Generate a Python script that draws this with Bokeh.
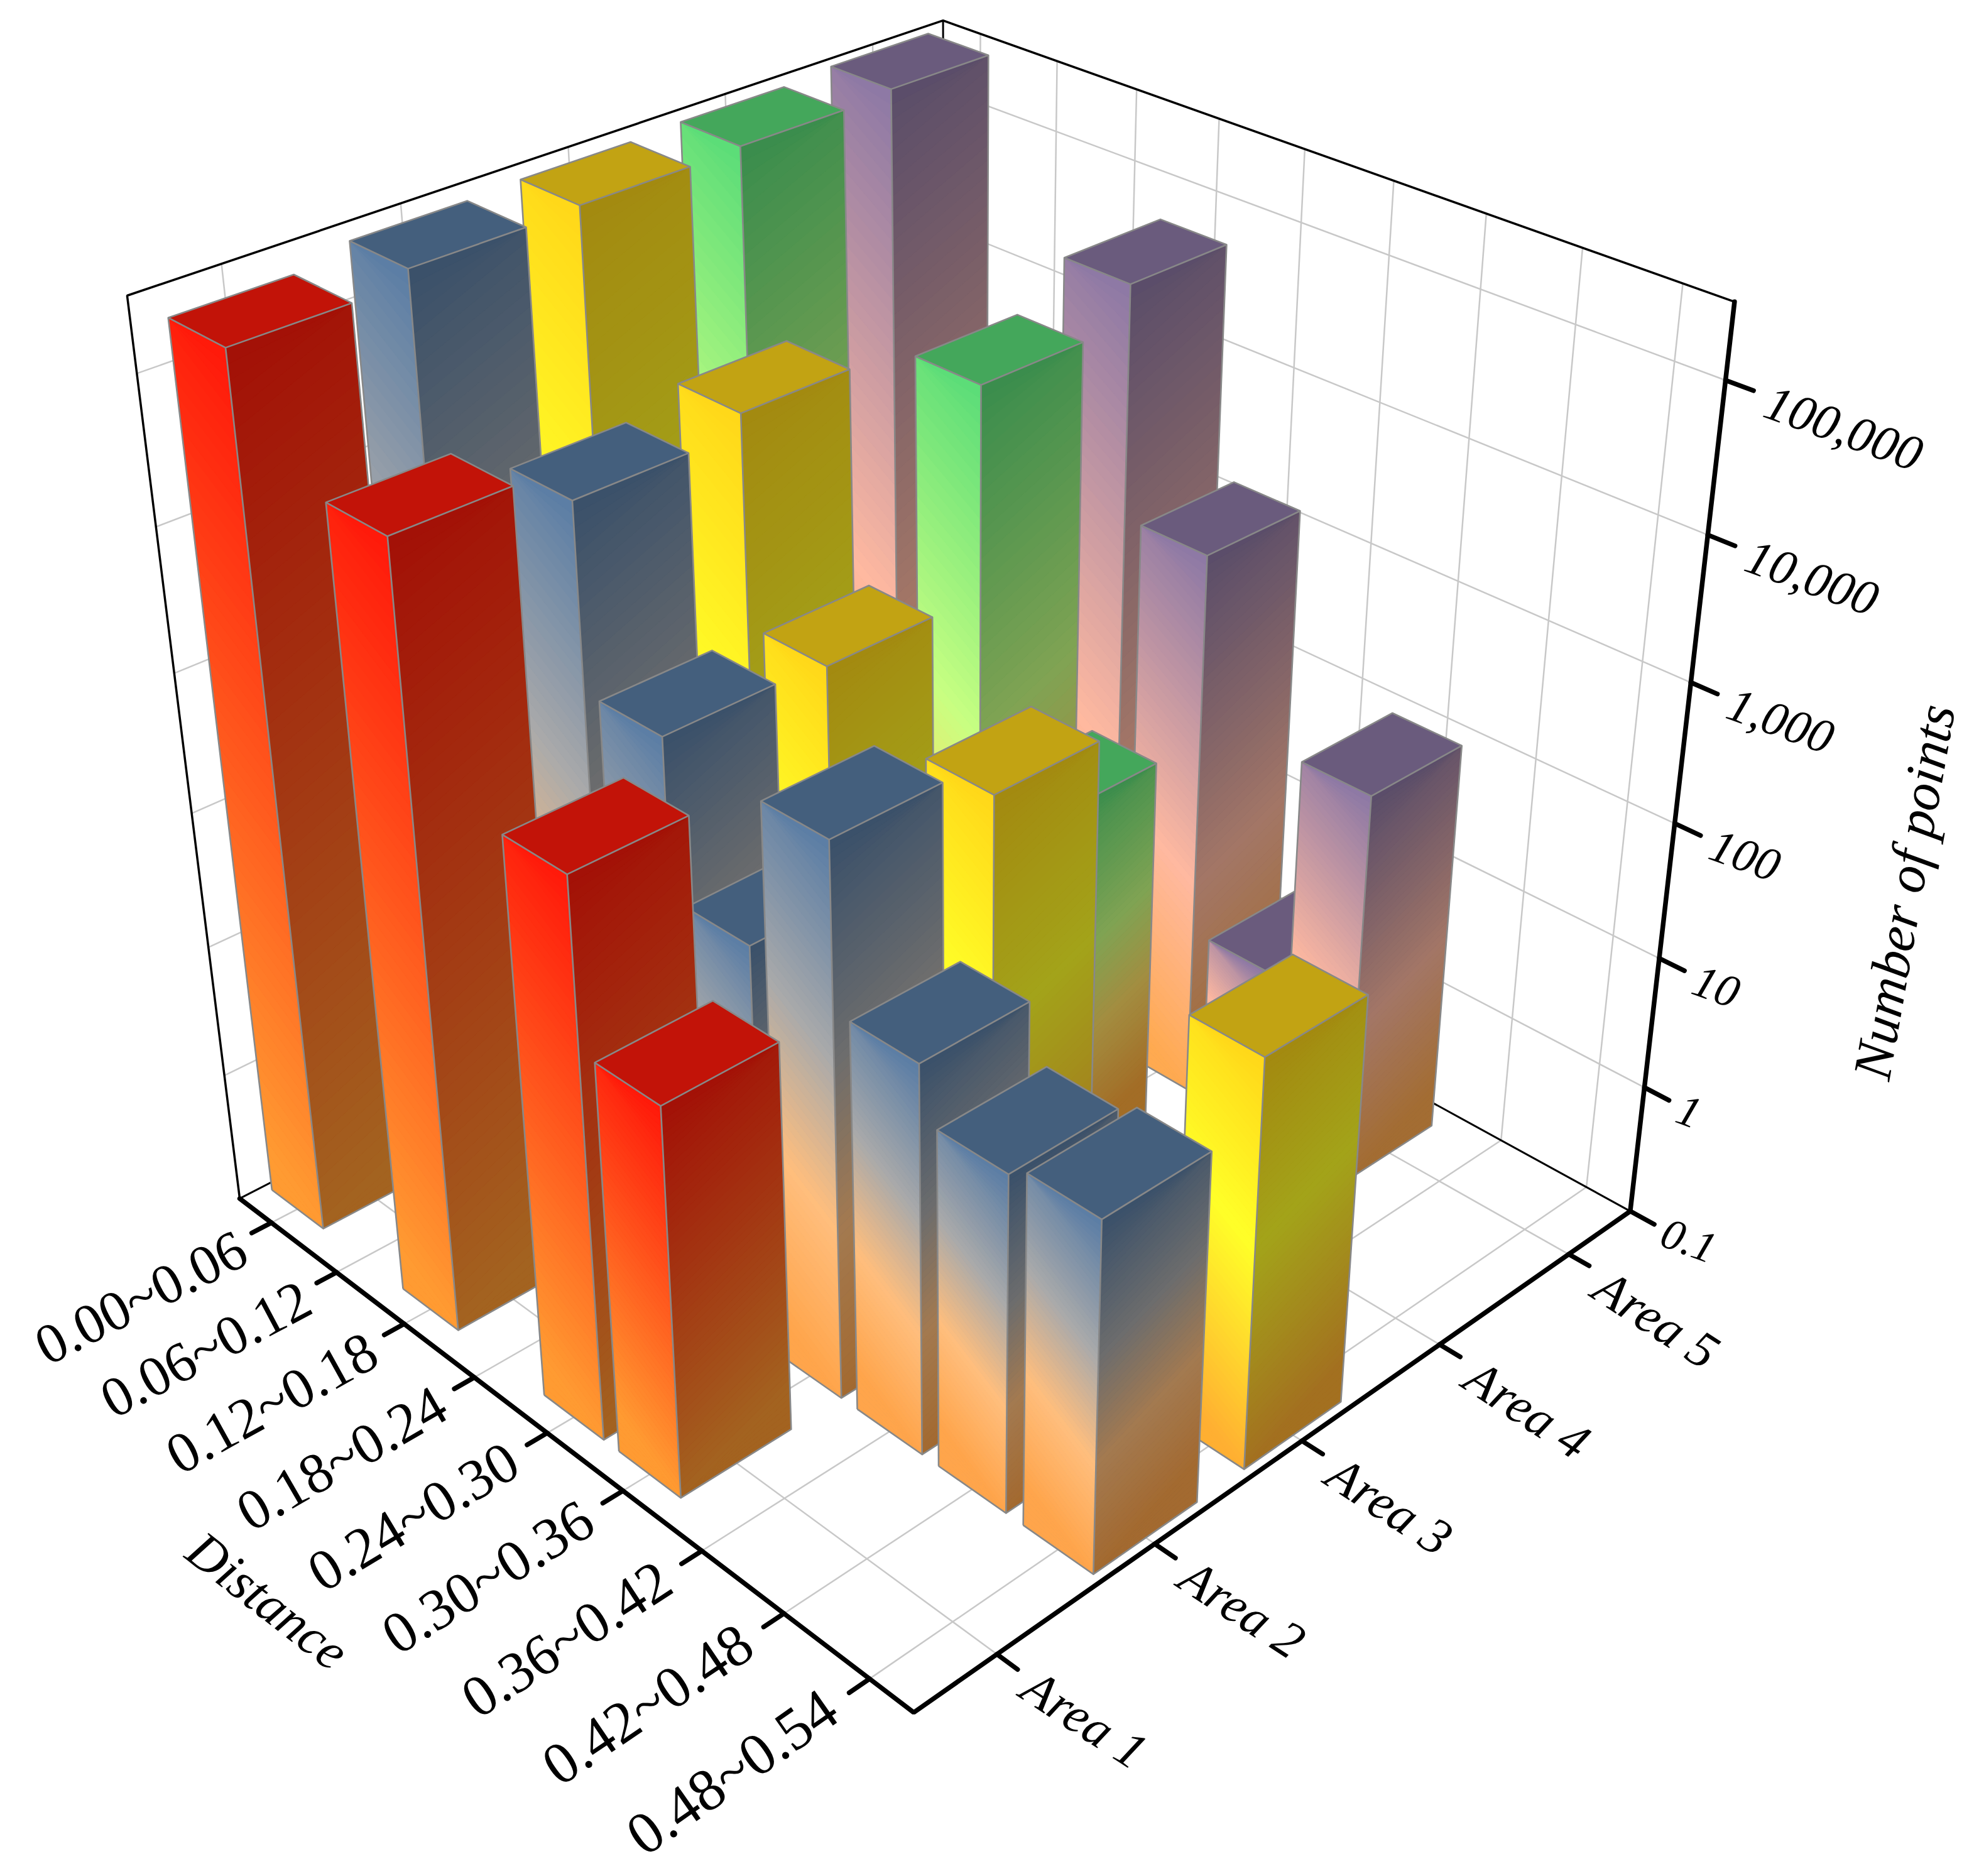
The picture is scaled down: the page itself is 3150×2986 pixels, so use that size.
import numpy as np
from bokeh.plotting import figure
from bokeh.core.properties import value
from bokeh.embed import file_html
from bokeh.resources import INLINE

areas = ["Area 1", "Area 2", "Area 3", "Area 4", "Area 5"]
distances = ["0.00~0.06","0.06~0.12","0.12~0.18","0.18~0.24","0.24~0.30","0.30~0.36","0.36~0.42","0.42~0.48","0.48~0.54"]
z_labels = ["0.1","1","10","100","1,000","10,000","100,000"]
z_title = "Number of points"
x_title = "Distance"

# counts per distance bin; None = no bar
area1 = [204000, None, 43700, None, 1200, 76, None, None, None]
area2 = [251000, None, 25100, 1320, 100, 1150, 78, 32, 39]
area3 = [263000, None, 33100, 1200, None, 631, None, None, 107]
area4 = [275000, None, None, 33100, 62, None, None, None, None]
area5 = [295000, None, None, 60300, 1410, 2, 100, None, None]
series = [area1, area2, area3, area4, area5]

# camera calibration: (distance slot, area slot, log decade above 0.1) -> pixel
cal = [((0,0,0),(380.6,1906)),((.5,0,0),(430.5,1945)),((1.5,0,0),(537,2025)),((2.5,0,0),(643,2108)),((3.5,0,0),(755,2193)),
 ((4.5,0,0),(870,2280)),((5.5,0,0),(990,2372)),((6.5,0,0),(1116,2468)),((7.5,0,0),(1247,2567)),((8.5,0,0),(1383.6,2672)),
 ((9,0,0),(1454,2726.5)),((9,.5,0),(1587,2630)),((9,1.5,0),(1838,2457)),((9,2.5,0),(2072.7,2294)),((9,3.5,0),(2291,2139)),
 ((9,4.5,0),(2497.5,1996)),((9,5,0),(2592,1927)),((9,5,1),(2618,1731)),((9,5,2),(2641,1526)),((9,5,3),(2664.6,1310)),
 ((9,5,4),(2689.5,1085)),((9,5,5),(2718.5,851)),((9,5,6),(2747.5,604)),((9,5,6.49),(2759,480)),((0,0,6.49),(201.7,470.7)),((0,5,6.49),(1501,32))]
ZT = 6.49
A = []
for (x,y,z),(u,v) in cal:
    u, v = u/1000, v/1000
    A.append([x,y,z,1,0,0,0,0,-u*x,-u*y,-u*z,-u])
    A.append([0,0,0,0,x,y,z,1,-v*x,-v*y,-v*z,-v])
P = np.linalg.svd(np.array(A))[2][-1].reshape(3,4)
P[:2] *= 1000
def pr(x,y,z):
    h = P @ np.array([x,y,z,1.0])
    return h[0]/h[2], h[1]/h[2]

Y0,Y1=.16,.84
stops = [
 [(0,(255,155,50)),(1,(255,25,10))],
 [(0,(255,165,75)),(.32,(255,190,125)),(.62,(170,170,170)),(1,(90,125,165))],
 [(0,(255,175,50)),(.55,(255,255,40)),(1,(255,215,25))],
 [(0,(255,170,60)),(.3,(255,220,100)),(.55,(200,255,130)),(1,(90,220,120))],
 [(0,(255,170,80)),(.4,(255,185,160)),(1,(140,120,165))],
]
def col(s,t,k=1.0):
    ts=[a for a,_ in s]
    c=[np.interp(t,ts,[b[n] for _,b in s])*k for n in range(3)]
    return "#%02x%02x%02x"%tuple(int(round(q)) for q in c)

p = figure(width=3134,height=2970,x_range=(0,3134),y_range=(2970,0),output_backend="svg",toolbar_location=None,
           min_border=0,outline_line_color=None,background_fill_color="white",border_fill_color="white")
p.axis.visible=False; p.grid.visible=False

def ln(pts,c,w):
    a=[pr(*q) for q in pts]
    p.line([q[0] for q in a],[q[1] for q in a],line_color=c,line_width=w,line_cap="round")
G="#c8c8c8"
for k in range(1,7):
    ln([(0,0,k),(0,5,k),(9,5,k)],G,2.5)
for j in range(5):
    ln([(9,j+.5,0),(0,j+.5,0),(0,j+.5,ZT)],G,2.5)
for i in range(9):
    ln([(i+.5,0,0),(i+.5,5,0),(i+.5,5,ZT)],G,2.5)
ln([(0,0,0),(0,5,0),(9,5,0)],"black",3)
ln([(0,5,0),(0,5,ZT)],"black",3)
ln([(0,0,0),(0,0,ZT),(0,5,ZT),(9,5,ZT)],"black",3.5)

# bars, back to front
for j in range(4,-1,-1):
  for i,v in enumerate(series[j]):
    if v is None:
        continue
    z=np.log10(v)+1
    C=.33/z
    x0,x1,y0,y1=i+.1,i+.9,j+Y0,j+Y1
    N=64
    xs=[];ys=[];cs=[]
    for (a,b,k) in (((x0,y0),(x1,y0),1.0),((x1,y0),(x1,y1),.64)):
        q=[pr(a[0],a[1],0),pr(b[0],b[1],0),pr(b[0],b[1],z),pr(a[0],a[1],z)]
        xs.append([w[0] for w in q]);ys.append([w[1] for w in q]);cs.append(col(stops[j],.75,k))
    for (a,b,k,c0,c1) in (((x0,y0),(x1,y0),1.0,C,0.0),((x1,y0),(x1,y1),.64,0.0,C)):
        ts=np.linspace(-C,1,N+1)
        for m in range(N):
            ta,tb=ts[m],ts[m+1]
            lo0,lo1=np.clip([ta+c0,ta+c1],0,1)*z
            hi0,hi1=np.clip([tb+c0,tb+c1],0,1)*z
            if hi0-lo0<1e-9 and hi1-lo1<1e-9:
                continue
            q=[pr(a[0],a[1],lo0),pr(b[0],b[1],lo1),pr(b[0],b[1],hi1),pr(a[0],a[1],hi0)]
            xs.append([w[0] for w in q]);ys.append([w[1] for w in q]);cs.append(col(stops[j],(ta+tb)/2,k))
    q=[pr(x0,y0,z),pr(x1,y0,z),pr(x1,y1,z),pr(x0,y1,z)]
    xs.append([w[0] for w in q]);ys.append([w[1] for w in q]);cs.append(col(stops[j],1,.76))
    p.patches(xs,ys,fill_color=cs,line_color=cs,line_width=1)
    E="#888888"
    for seg in ([(x0,y0,0),(x1,y0,0),(x1,y1,0),(x1,y1,z),(x0,y1,z),(x0,y0,z),(x0,y0,0)],[(x1,y0,0),(x1,y0,z),(x1,y1,z)],[(x1,y0,z),(x0,y0,z)]):
        a=[pr(*w) for w in seg]
        p.line([w[0] for w in a],[w[1] for w in a],line_color=E,line_width=2.6,line_join="round")

ln([(0,0,0),(9,0,0),(9,5,0),(9,5,ZT)],"black",7.5)
for i in range(9): ln([(i+.5,0,0),(i+.5,-.12,0)],"black",7.5)
for j in range(5): ln([(9,j+.5,0),(9.23,j+.5,0)],"black",7.5)
for k in range(7): ln([(9,5,k),(9.27,5,k)],"black",7.5)

def lab(xs,ys,ts,ang,size,al,st="normal"):
    p.text(xs,ys,text=ts,angle=ang,angle_units="deg",text_font=value("Liberation Serif"),text_font_size=value(size),
           text_align=al,text_baseline="middle",text_font_style=st,text_color="black")
for i in range(9):
    q=pr(i+.5,0,0)
    f=i/8
    lab([q[0]-46-16*f],[q[1]+36+2*f],[distances[i]],27+8*f,"%dpx"%(90+5*f),"right")
a=[pr(9,j+.5,0) for j in range(5)]
lab([q[0]+48 for q in a],[q[1]+44 for q in a],areas,-33,"82px","left","italic")
for k in range(7):
    q=pr(9,5,k)
    lab([q[0]+52+2.3*k],[q[1]+32],[z_labels[k]],-20,"%dpx"%(70+1.8*k),"left","italic")
lab([426],[2547],[x_title],-38,"84px","center","italic")
lab([3030],[1419],[z_title],80,"87px","center","italic")

open("out.html","w").write(file_html(p,INLINE))
